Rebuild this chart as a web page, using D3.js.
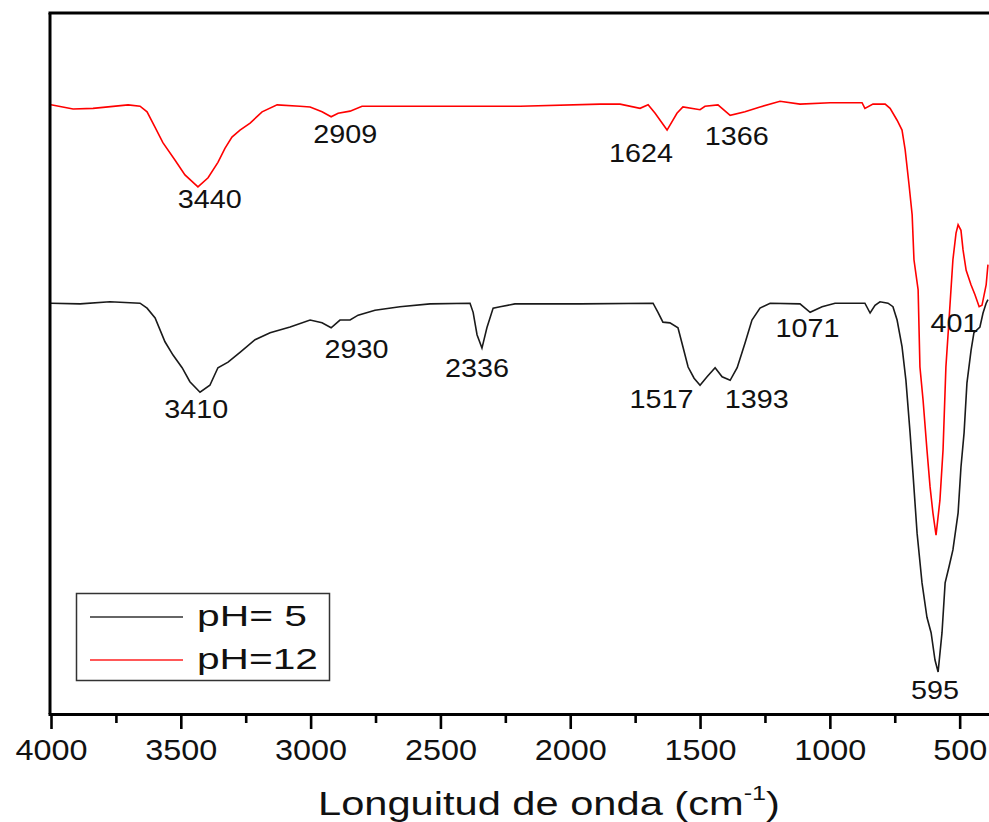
<!DOCTYPE html>
<html>
<head>
<meta charset="utf-8">
<script src="https://cdnjs.cloudflare.com/ajax/libs/d3/7.8.5/d3.min.js"></script>
<style>
  html, body { margin: 0; padding: 0; background: #fff; }
  svg { display: block; }
  text { font-family: "Liberation Sans", Arial, sans-serif; fill: #111; }
</style>
</head>
<body>
<svg id="chart" width="989" height="822"></svg>
<script>
// wavenumber (cm-1) and relative transmittance (arbitrary units)
const wavePH12 = [4000,3915,3838,3703,3657,3630,3599,3569,3522,3484,3434,3395,3357,3330,3303,3272,3233,3187,3129,3041,3002,2956,2921,2894,2848,2802,2733,2193,1885,1808,1731,1700,1673,1627,1589,1566,1500,1481,1431,1384,1327,1269,1192,1115,999,876,865,834,787,768,741,722,710,695,683,676,660,653,641,626,614,603,591,576,564,553,541,526,514,506,495,487,475,456,441,425,414,398,391];
const transPH12 = [86.9,86.3,86.4,86.9,86.7,85.9,83.7,81.5,79.0,76.9,75.2,76.5,78.7,80.7,82.3,83.3,84.3,85.9,86.9,86.7,86.6,85.9,85.2,85.7,86.0,86.7,86.7,86.7,87.0,87.0,86.4,86.9,85.7,83.3,85.7,86.6,86.2,86.7,86.9,85.4,85.9,86.6,87.4,87.0,87.2,87.2,86.4,87.0,87.0,86.4,84.7,83.3,80.5,75.5,71.2,64.8,60.5,49.5,44.8,37.7,32.4,28.7,25.5,30.5,37.7,49.5,56.2,64.8,68.6,69.8,69.0,66.2,63.3,61.2,59.8,58.1,58.3,61.2,64.1];

const wavePH5 = [4000,3888,3773,3657,3630,3599,3561,3530,3495,3465,3426,3388,3357,3318,3272,3214,3156,3079,3002,2956,2921,2887,2848,2817,2752,2656,2540,2386,2374,2359,2340,2321,2297,2270,2213,1962,1681,1662,1643,1616,1585,1566,1546,1523,1500,1473,1442,1415,1384,1357,1327,1300,1269,1230,1115,1076,1030,980,865,845,826,807,776,757,741,722,707,691,680,664,645,626,610,595,583,568,556,541,526,506,495,483,472,456,445,422,410,398,391];
const transPH5 = [58.6,58.5,58.8,58.6,57.9,56.5,53.1,51.2,49.4,47.4,45.9,46.9,49.4,50.2,51.6,53.4,54.4,55.2,56.2,55.8,55.1,56.2,56.2,56.9,57.6,58.1,58.5,58.6,57.3,54.1,52.2,55.1,57.9,58.1,58.5,58.5,58.6,57.3,55.9,55.8,55.1,52.4,49.5,47.9,46.9,48.1,49.4,48.1,47.6,49.4,52.9,56.2,57.9,58.6,58.5,57.3,58.1,58.6,58.6,57.2,58.3,58.8,58.6,58.1,56.2,52.4,47.6,40.1,34.4,25.8,18.7,13.8,11.6,7.7,6.0,11.6,18.7,21.0,23.4,28.7,35.2,40.1,47.2,51.9,54.4,55.2,57.2,58.6,59.1];

// peak annotations: label text, wavenumber at label centre, transmittance at label baseline
const peakLabelsPH12 = ["3440","2909","1624","1366","401"];
const peakWavePH12  = [3388, 2867, 1727, 1359, 520];
const peakTransPH12 = [72.2, 81.5, 78.7, 81.2, 54.5];
const peakLabelsPH5 = ["3410","2930","2336","1517","1393","1071","595"];
const peakWavePH5  = [3440, 2823, 2359, 1648, 1282, 1086, 595];
const peakTransPH5 = [42.2, 50.8, 48.1, 43.7, 43.7, 53.8, 2.1];

const majorTicks = [4000,3500,3000,2500,2000,1500,1000,500];
const minorTicks = [3750,3250,2750,2250,1750,1250,750];
const seriesNames = ["pH= 5", "pH=12"];
const seriesColors = ["#1a1a1a", "#ff0000"];
const xTitle = "Longuitud de onda (cm";

const svg = d3.select("#chart");
const mLeft = 51, mRight = 989, mTop = 13, mBottom = 714;

const x = d3.scaleLinear().domain([4000, 387]).range([mLeft, mRight]);
const y = d3.scaleLinear().domain([0, 100]).range([mBottom, mTop]);

// curves
const line = d3.line().x(d => x(d[0])).y(d => y(d[1])).curve(d3.curveLinear);
const dPH5 = wavePH5.map((w, i) => [w, transPH5[i]]);
const dPH12 = wavePH12.map((w, i) => [w, transPH12[i]]);

svg.append("path").datum(dPH12).attr("d", line)
  .attr("fill", "none").attr("stroke", seriesColors[1]).attr("stroke-width", 1.6);
svg.append("path").datum(dPH5).attr("d", line)
  .attr("fill", "none").attr("stroke", seriesColors[0]).attr("stroke-width", 1.6);

// frame: top border and left axis line
svg.append("line").attr("x1", mLeft - 2.5).attr("x2", mRight).attr("y1", mTop).attr("y2", mTop)
  .attr("stroke", "#000").attr("stroke-width", 3);
svg.append("line").attr("x1", mLeft - 1).attr("x2", mLeft - 1).attr("y1", mTop).attr("y2", mBottom)
  .attr("stroke", "#000").attr("stroke-width", 3);

// x axis
const gMinor = svg.append("g").attr("transform", `translate(0,${mBottom})`)
  .call(d3.axisBottom(x).tickValues(minorTicks).tickSize(9).tickFormat(""));
gMinor.select(".domain").remove();
gMinor.selectAll(".tick line").attr("stroke", "#000").attr("stroke-width", 2.6);

const gMajor = svg.append("g").attr("transform", `translate(0,${mBottom})`)
  .call(d3.axisBottom(x).tickValues(majorTicks).tickSize(15).tickSizeOuter(0).tickFormat(d3.format("d")));
gMajor.select(".domain").attr("stroke", "#000").attr("stroke-width", 3)
  .attr("d", `M${mLeft - 2.5},0.5H${mRight}`);
gMajor.selectAll(".tick line").attr("stroke", "#000").attr("stroke-width", 2.6);
gMajor.selectAll(".tick text")
  .attr("y", 46).attr("dy", null)
  .attr("font-size", 29)
  .attr("font-family", "Liberation Sans, Arial, sans-serif")
  .attr("fill", "#111")
  .attr("textLength", d => String(d).length * 18)
  .attr("lengthAdjust", "spacingAndGlyphs");

// axis title
const title = svg.append("text")
  .attr("x", 318).attr("y", 815)
  .attr("font-size", 33)
  .attr("textLength", 462).attr("lengthAdjust", "spacingAndGlyphs");
title.append("tspan").text(xTitle);
title.append("tspan").attr("font-size", 20).attr("dy", -15).text("-1");
title.append("tspan").attr("dy", 15).text(")");

// peak labels
function addLabels(labels, waves, trans) {
  svg.append("g").selectAll("text").data(labels).join("text")
    .attr("x", (d, i) => x(waves[i]))
    .attr("y", (d, i) => y(trans[i]))
    .attr("text-anchor", "middle")
    .attr("font-size", 25)
    .attr("textLength", d => d.length * 16)
    .attr("lengthAdjust", "spacingAndGlyphs")
    .text(d => d);
}
addLabels(peakLabelsPH12, peakWavePH12, peakTransPH12);
addLabels(peakLabelsPH5, peakWavePH5, peakTransPH5);

// legend
const lg = svg.append("g");
lg.append("rect").attr("x", 76.5).attr("y", 593.5).attr("width", 253).attr("height", 87)
  .attr("fill", "#fff").attr("stroke", "#333").attr("stroke-width", 1.5);
const legendRows = [617, 660];
seriesNames.forEach((name, i) => {
  lg.append("line").attr("x1", 90).attr("x2", 183).attr("y1", legendRows[i]).attr("y2", legendRows[i])
    .attr("stroke", i === 0 ? "#333" : "#ff2020").attr("stroke-width", 1.6);
  lg.append("text").attr("x", 197).attr("y", legendRows[i] + 9)
    .attr("font-size", 30)
    .attr("textLength", i === 0 ? 110 : 121).attr("lengthAdjust", "spacingAndGlyphs")
    .text(name);
});
</script>
</body>
</html>
